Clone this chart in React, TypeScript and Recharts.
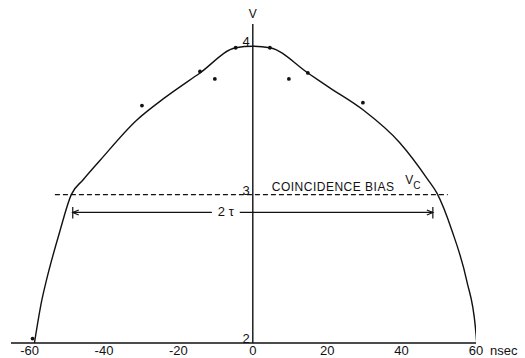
import { ComposedChart, Line, ReferenceDot, ReferenceLine, Scatter, XAxis, YAxis } from "recharts";

// Response curve traced through the measured points (delay in nsec, level in V)
const curveX = [
  -58.7, -56.7, -55.5, -51.9, -48.8, -45.6, -41.1, -31.3, -24.1, -14.2, -4.6, 0,
  4.6, 14.8, 20.7, 29.7, 39.5, 47.1, 49.5, 53.5, 57.5, 59.9, 60.2,
];
const curveV = [
  2.0, 2.29, 2.42, 2.75, 3.0, 3.1, 3.23, 3.5, 3.645, 3.82, 3.99, 4.0,
  3.99, 3.82, 3.72, 3.57, 3.35, 3.1, 3.01, 2.76, 2.42, 2.09, 2.0,
];

// Plotted measurements
const dotX = [-59.2, -29.8, -14.2, -10.2, -4.6, 4.6, 9.7, 14.8, 29.6, 60.2];
const dotV = [2.03, 3.6, 3.83, 3.78, 3.99, 3.99, 3.78, 3.82, 3.62, 2.09];

const xTicks = [-60, -40, -20, 0, 20, 40, 60];
const vTicks = [2, 3, 4];

const biasLevel = 3.0;
const biasSpan = [-53.2, 52.4];
const tauLevel = 2.88;
const tauSpan = [-48.4, 48.4];
const tauGap = [-11.0, -3.5];

const curve = curveX.map((x, i) => ({ x, v: curveV[i] }));
const dots = dotX.map((x, i) => ({ x, v: dotV[i] }));

const INK = "#111";
const FONT = "'Liberation Sans', Arial, sans-serif";

const XTick = (props: any) => {
  const { x, y, payload } = props;
  const v = payload.value as number;
  const label = v < 0 ? `-${-v}` : `${v}`;
  return (
    <g fontFamily={FONT} fontSize={13} fill={INK}>
      <text x={x} y={y} dy="0.71em" textAnchor="middle">
        {label}
      </text>
      {v === 60 && (
        <text x={x + 14} y={y} dy="0.71em" textAnchor="start">
          nsec
        </text>
      )}
    </g>
  );
};

// small text placed relative to a reference point
const note =
  (text: string, dx: number, dy: number, anchor: "start" | "middle" | "end", size = 13, spacing = 0) =>
  (props: any) => {
    const { viewBox } = props;
    return (
      <text
        x={viewBox.x + dx}
        y={viewBox.y + dy}
        textAnchor={anchor}
        fontFamily={FONT}
        fontSize={size}
        letterSpacing={spacing}
        fill={INK}
      >
        {text}
      </text>
    );
  };

const subscriptV = (props: any) => {
  const { viewBox } = props;
  return (
    <text x={viewBox.x} y={viewBox.y - 11} fontFamily={FONT} fontSize={12} fill={INK}>
      V
      <tspan fontSize={10} dy={5}>
        C
      </tspan>
    </text>
  );
};

// dimension line with an arrowhead and end bar on one side
const arrowShape = (side: "left" | "right") => (props: any) => {
  const { x1, y1, x2, y2 } = props;
  const ex = side === "left" ? Math.min(x1, x2) : Math.max(x1, x2);
  const s = side === "left" ? 1 : -1;
  return (
    <g stroke={INK} strokeWidth={1.2} fill="none">
      <line x1={x1} y1={y1} x2={x2} y2={y2} />
      <line x1={ex} y1={y1 - 5.5} x2={ex} y2={y1 + 6} />
      <polyline points={`${ex + s * 6},${y1 - 2.5} ${ex},${y1} ${ex + s * 6},${y1 + 2.5}`} />
    </g>
  );
};

const Dot = (props: any) => <circle cx={props.cx} cy={props.cy} r={1.9} fill={INK} />;

export default function App() {
  return (
    <div style={{ position: "absolute", left: 0, top: 0, width: 525, height: 358, background: "#fff" }}>
      <ComposedChart width={525} height={358} margin={{ top: 24, right: 49, bottom: 0, left: 11 }}>
        <XAxis
          dataKey="x"
          type="number"
          domain={[-65, 60]}
          ticks={xTicks}
          allowDataOverflow
          height={15}
          tickSize={0}
          tickMargin={3}
          tickLine={false}
          axisLine={{ stroke: INK, strokeWidth: 1.5 }}
          tick={<XTick />}
        />
        <YAxis hide type="number" domain={[2, 4.15]} allowDataOverflow />

        <ReferenceLine
          x={0}
          stroke={INK}
          strokeWidth={1.4}
          label={{ value: "V", position: "top", offset: 6, fill: INK, fontSize: 12, fontFamily: FONT }}
        />
        {vTicks.map((v) => (
          <ReferenceDot key={v} x={0} y={v} r={0} stroke="none" label={note(String(v), -3, 0, "end")} />
        ))}

        <ReferenceLine
          segment={[
            { x: biasSpan[0], y: biasLevel },
            { x: biasSpan[1], y: biasLevel },
          ]}
          stroke={INK}
          strokeWidth={1.2}
          strokeDasharray="5 3"
        />
        <ReferenceDot
          x={5.1}
          y={biasLevel}
          r={0}
          stroke="none"
          label={note("COINCIDENCE BIAS", 0, -4, "start", 12, 0.5)}
        />
        <ReferenceDot x={41} y={biasLevel} r={0} stroke="none" label={subscriptV} />

        <ReferenceLine
          segment={[
            { x: tauSpan[0], y: tauLevel },
            { x: tauGap[0], y: tauLevel },
          ]}
          shape={arrowShape("left")}
        />
        <ReferenceLine
          segment={[
            { x: tauGap[1], y: tauLevel },
            { x: tauSpan[1], y: tauLevel },
          ]}
          shape={arrowShape("right")}
        />
        <ReferenceDot
          x={(tauGap[0] + tauGap[1]) / 2}
          y={tauLevel}
          r={0}
          stroke="none"
          label={note("2 τ", 0, 4, "middle", 13)}
        />

        <Line
          data={curve}
          dataKey="v"
          type="monotone"
          stroke={INK}
          strokeWidth={1.4}
          dot={false}
          activeDot={false}
          isAnimationActive={false}
        />
        <Scatter data={dots} dataKey="v" shape={<Dot />} isAnimationActive={false} />
      </ComposedChart>
    </div>
  );
}
